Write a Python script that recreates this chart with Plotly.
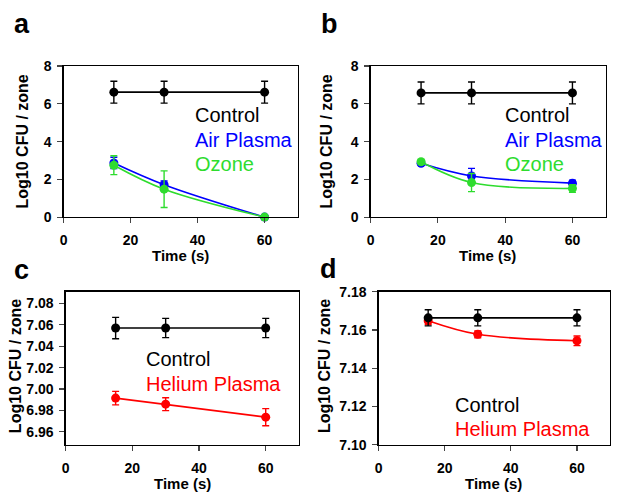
import plotly.graph_objects as go

# ---------------- data ----------------
time_s = [15, 30, 60]

# panel a
a_control = [6.62, 6.62, 6.62]
a_control_err = [0.58, 0.58, 0.58]
a_air = [2.87, 1.72, 0.0]
a_air_err = [0.3, 0.2, 0.0]
a_ozone = [2.75, 1.48, 0.0]
a_ozone_err = [0.5, 0.97, 0.0]

# panel b
b_control = [6.58, 6.58, 6.58]
b_control_err = [0.58, 0.58, 0.58]
b_air = [2.85, 2.18, 1.8]
b_air_err = [0.1, 0.4, 0.15]
b_ozone = [2.93, 1.83, 1.52]
b_ozone_err = [0.1, 0.48, 0.2]

# panel c
c_control = [7.057, 7.057, 7.057]
c_control_err = [0.010, 0.009, 0.009]
c_helium = [6.9915, 6.9858, 6.9737]
c_helium_err = [0.0063, 0.006, 0.008]

# panel d
d_control = [7.1663, 7.1663, 7.1663]
d_control_err = [0.0042, 0.0042, 0.0042]
d_helium = [7.1648, 7.1577, 7.1543]
d_helium_err = [0.002, 0.0018, 0.0025]

x_ticks = [0, 20, 40, 60]
ab_y_ticks = [0, 2, 4, 6, 8]
c_y_ticks = [6.96, 6.98, 7.00, 7.02, 7.04, 7.06, 7.08]
d_y_ticks = [7.10, 7.12, 7.14, 7.16, 7.18]

panel_labels = ["a", "b", "c", "d"]
x_title = "Time (s)"
y_title = "Log10 CFU / zone"

BLACK = "#000000"
BLUE = "#0000ff"
GREEN = "#2edc2e"
RED = "#ff0000"
FONT = "Liberation Sans, Arial, sans-serif"

W, H = 618, 502

fig = go.Figure()


def add_series(x, y, err, color, xa, ya, shape="linear"):
    fig.add_trace(go.Scatter(
        x=x, y=y, mode="lines+markers",
        line=dict(color=color, width=1.6, shape=shape, smoothing=1.0),
        marker=dict(color=color, size=9, symbol="circle"),
        error_y=dict(type="data", array=err, color=color, thickness=1.4, width=3.5, visible=True),
        xaxis=xa, yaxis=ya, showlegend=False, cliponaxis=False,
    ))


# panel a
add_series(time_s, a_air, a_air_err, BLUE, "x", "y", "spline")
add_series(time_s, a_ozone, a_ozone_err, GREEN, "x", "y", "spline")
add_series(time_s, a_control, a_control_err, BLACK, "x", "y")
# panel b
add_series(time_s, b_air, b_air_err, BLUE, "x2", "y2", "spline")
add_series(time_s, b_ozone, b_ozone_err, GREEN, "x2", "y2", "spline")
add_series(time_s, b_control, b_control_err, BLACK, "x2", "y2")
# panel c
add_series(time_s, c_helium, c_helium_err, RED, "x3", "y3")
add_series(time_s, c_control, c_control_err, BLACK, "x3", "y3")
# panel d
add_series(time_s, d_helium, d_helium_err, RED, "x4", "y4", "spline")
add_series(time_s, d_control, d_control_err, BLACK, "x4", "y4")


def px_x(p):
    return p / W


def px_y(p):
    return 1 - p / H


panels = [
    # (xdomain px, ydomain px(top,bottom), yrange, yticks, ytickformat)
    ((60, 296), (60, 216), [0, 8], ab_y_ticks, "d"),
    ((369, 606), (60, 216), [0, 8], ab_y_ticks, "d"),
    ((62, 297), (293, 451), [6.948, 7.091], c_y_ticks, ".2f"),
    ((377, 610), (293, 451), [7.10, 7.18], d_y_ticks, ".2f"),
]

tickfont = dict(family=FONT, size=14, color="black", weight="bold")
layout = dict(
    width=W, height=H, margin=dict(l=0, r=0, t=0, b=0),
    paper_bgcolor="white", plot_bgcolor="white",
    font=dict(family=FONT),
)
for i, (xd, yd, yr, yt, fmt) in enumerate(panels):
    sfx = "" if i == 0 else str(i + 1)
    layout["xaxis" + sfx] = dict(
        domain=[px_x(xd[0]), px_x(xd[1])], range=[0, 70],
        tickvals=x_ticks, ticks="outside", ticklen=5, tickwidth=1.2,
        ticklabelstandoff=5,
        showline=True, linecolor="black", linewidth=1.2, mirror=True,
        showgrid=False, zeroline=False, tickfont=tickfont,
        anchor="y" + sfx, fixedrange=True,
    )
    layout["yaxis" + sfx] = dict(
        domain=[px_y(yd[1]), px_y(yd[0])], range=yr,
        tickvals=yt, tickformat=fmt, ticks="outside", ticklen=5, tickwidth=1.2,
        ticklabelstandoff=3,
        showline=True, linecolor="black", linewidth=1.2, mirror=True,
        showgrid=False, zeroline=False, tickfont=tickfont,
        anchor="x" + sfx, fixedrange=True,
    )
fig.update_layout(**layout)

ann = []


def text(x, y, s, size, color="black", bold=False, xanchor="center", angle=0):
    ann.append(dict(
        x=px_x(x), y=px_y(y), xref="paper", yref="paper", text=("<b>%s</b>" % s) if bold else s,
        showarrow=False, xanchor=xanchor, yanchor="middle", textangle=angle,
        font=dict(family=FONT, size=size, color=color),
    ))


# panel labels
text(18, 17, panel_labels[0], 27, bold=True)
text(328, 17, panel_labels[1], 27, bold=True)
text(18, 271, panel_labels[2], 27, bold=True)
text(327, 270, panel_labels[3], 27, bold=True)

# axis titles
for cx, cy in [(178, 256), (487, 256), (180, 491), (493, 491)]:
    text(cx, cy, x_title, 15, bold=True)
for cx, cy in [(19, 138), (325, 138), (11, 370), (322, 370)]:
    text(cx, cy, y_title, 16, bold=True, angle=-90)

# legends
text(190, 111, "Control", 20, BLACK, xanchor="left")
text(190, 136, "Air Plasma", 20, BLUE, xanchor="left")
text(190, 161, "Ozone", 20, GREEN, xanchor="left")
text(502, 111, "Control", 20, BLACK, xanchor="left")
text(502, 136, "Air Plasma", 20, BLUE, xanchor="left")
text(502, 161, "Ozone", 20, GREEN, xanchor="left")
text(141, 363, "Control", 20, BLACK, xanchor="left")
text(141, 388, "Helium Plasma", 20, RED, xanchor="left")
text(452, 410, "Control", 20, BLACK, xanchor="left")
text(452, 435, "Helium Plasma", 20, RED, xanchor="left")

fig.update_layout(annotations=ann)
fig.write_html(
    "out.html",
    config={"displayModeBar": False, "staticPlot": True},
    post_script="document.body.style.margin='0';document.body.style.overflow='hidden';",
)
